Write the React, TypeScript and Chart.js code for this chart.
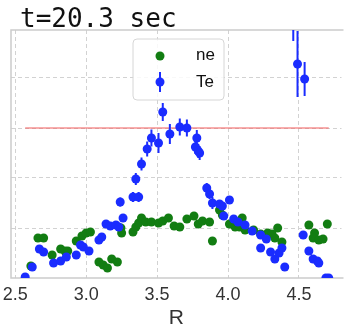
import React, { useEffect, useRef } from "react";
import { Chart, registerables } from "chart.js";

Chart.register(...registerables);

// ---- data ----
const titleText = "t=20.3 sec";
const xTickValues = [2.5, 3.0, 3.5, 4.0, 4.5];
const xLabel = "R";

const teR = [2.57, 2.62, 2.67, 2.70, 2.77, 2.82, 2.86, 2.93, 2.96, 2.98, 3.02, 3.09, 3.11, 3.14, 3.17, 3.21, 3.23, 3.26, 3.24, 3.33, 3.37, 3.35, 3.39, 3.43, 3.46, 3.51, 3.54, 3.59, 3.66, 3.71, 3.78, 3.77, 3.79, 3.80, 3.85, 3.87, 3.89, 3.94, 3.96, 4.01, 3.97, 4.04, 4.07, 4.12, 4.17, 4.23, 4.27, 4.23, 4.30, 4.33, 4.36, 4.38, 4.40, 4.49, 4.54, 4.46, 4.53, 4.57, 4.60, 4.63, 4.64, 4.69, 4.71];
const teV = [0.02, 0.22, 0.58, 0.52, 0.30, 0.34, 0.42, 0.46, 0.66, 0.62, 0.54, 0.76, 0.82, 1.08, 1.04, 1.06, 1.02, 1.20, 1.52, 1.62, 1.62, 1.98, 2.28, 2.58, 2.80, 2.70, 3.32, 2.88, 3.02, 3.00, 2.80, 2.62, 2.54, 2.50, 1.80, 1.68, 1.50, 1.48, 1.44, 1.56, 1.24, 1.18, 1.12, 1.06, 0.94, 0.86, 0.78, 0.60, 0.52, 0.38, 0.50, 0.60, 0.22, 4.28, 3.98, 5.30, 0.86, 0.54, 0.38, 0.34, 0.30, 0.0, 0.0];
const teErr = [0.04, 0.04, 0.05, 0.05, 0.04, 0.04, 0.05, 0.05, 0.05, 0.05, 0.05, 0.06, 0.06, 0.07, 0.07, 0.07, 0.07, 0.08, 0.09, 0.1, 0.1, 0.12, 0.13, 0.15, 0.17, 0.2, 0.18, 0.2, 0.17, 0.17, 0.16, 0.14, 0.14, 0.14, 0.1, 0.1, 0.12, 0.08, 0.08, 0.08, 0.07, 0.07, 0.07, 0.06, 0.06, 0.06, 0.06, 0.05, 0.05, 0.05, 0.05, 0.05, 0.04, 0.66, 0.34, 0.56, 0.06, 0.05, 0.05, 0.05, 0.05, 0.04, 0.04];

const neR = [2.61, 2.66, 2.70, 2.76, 2.82, 2.85, 2.87, 2.93, 2.97, 3.00, 3.03, 3.09, 3.12, 3.15, 3.18, 3.22, 3.25, 3.245, 3.33, 3.35, 3.37, 3.39, 3.42, 3.46, 3.51, 3.54, 3.58, 3.62, 3.66, 3.71, 3.76, 3.79, 3.82, 3.87, 3.89, 3.94, 3.96, 4.01, 4.05, 4.08, 4.10, 4.12, 4.18, 4.23, 4.28, 4.31, 4.35, 4.33, 4.38, 4.57, 4.61, 4.60, 4.64, 4.67, 4.70];
const neV = [0.24, 0.80, 0.80, 0.46, 0.58, 0.54, 0.54, 0.74, 0.84, 0.90, 0.92, 0.32, 0.26, 0.20, 0.38, 0.32, 0.90, 1.00, 0.92, 1.02, 1.10, 1.20, 1.12, 1.12, 1.10, 1.14, 1.20, 1.04, 1.02, 1.18, 1.24, 1.08, 1.14, 1.12, 0.74, 1.36, 1.26, 1.08, 1.02, 1.02, 1.20, 0.96, 0.96, 0.88, 0.90, 0.88, 1.00, 0.80, 0.72, 1.06, 0.90, 0.80, 0.76, 0.78, 1.08];

const refLevel = [3.0];
const refRange = [2.57, 4.71];

const X_MIN = 2.47;
const X_MAX = 4.80;
const Y_MIN = 0;
const Y_MAX = 4.96;

const BLUE = "#1a2cff";
const GREEN = "#127d12";
const GRID = "#d2d2d2";
const FRAME = "#cccccc";

const errorBarPlugin = {
  id: "errbars",
  beforeDatasetDraw(chart: any, args: any) {
    if (args.index !== 0) return;
    const { ctx, chartArea: ca, scales } = chart;
    const xs = scales.x;
    const ys = scales.y;
    ctx.save();
    ctx.beginPath();
    ctx.rect(ca.left, ca.top, ca.right - ca.left, ca.bottom - ca.top);
    ctx.clip();
    ctx.strokeStyle = BLUE;
    ctx.lineWidth = 2;
    for (let i = 0; i < teR.length; i++) {
      const px = xs.getPixelForValue(teR[i]);
      const y1 = ys.getPixelForValue(teV[i] - teErr[i]);
      const y2 = ys.getPixelForValue(teV[i] + teErr[i]);
      ctx.beginPath();
      ctx.moveTo(px, y1);
      ctx.lineTo(px, y2);
      ctx.stroke();
    }
    ctx.restore();
  },
};

const decorPlugin = {
  id: "decor",
  beforeDatasetsDraw(chart: any) {
    const { ctx, chartArea: ca } = chart;
    ctx.save();
    ctx.strokeStyle = FRAME;
    ctx.lineWidth = 1.5;
    ctx.beginPath();
    ctx.moveTo(ca.right + 2, ca.top);
    ctx.lineTo(ca.left, ca.top);
    ctx.lineTo(ca.left, ca.bottom);
    ctx.lineTo(ca.right + 2, ca.bottom);
    ctx.stroke();
    ctx.restore();
  },
  afterDraw(chart: any) {
    const { ctx, chartArea: ca } = chart;
    ctx.save();
    // title
    ctx.fillStyle = "#111";
    ctx.font = '26px "DejaVu Sans Mono"';
    ctx.textAlign = "left";
    ctx.textBaseline = "alphabetic";
    ctx.fillText(titleText, 20, 27);

    // legend
    const lx = ca.left + 122;
    const ly = ca.top + 9;
    const lw = 91;
    const lh = 61;
    const r = 4;
    ctx.beginPath();
    ctx.moveTo(lx + r, ly);
    ctx.lineTo(lx + lw - r, ly);
    ctx.quadraticCurveTo(lx + lw, ly, lx + lw, ly + r);
    ctx.lineTo(lx + lw, ly + lh - r);
    ctx.quadraticCurveTo(lx + lw, ly + lh, lx + lw - r, ly + lh);
    ctx.lineTo(lx + r, ly + lh);
    ctx.quadraticCurveTo(lx, ly + lh, lx, ly + lh - r);
    ctx.lineTo(lx, ly + r);
    ctx.quadraticCurveTo(lx, ly, lx + r, ly);
    ctx.closePath();
    ctx.fillStyle = "rgba(255,255,255,0.85)";
    ctx.fill();
    ctx.strokeStyle = "#d6d6d6";
    ctx.lineWidth = 1;
    ctx.stroke();

    const mx = lx + 27;
    ctx.fillStyle = GREEN;
    ctx.beginPath();
    ctx.arc(mx, ly + 17, 4.5, 0, Math.PI * 2);
    ctx.fill();
    ctx.strokeStyle = BLUE;
    ctx.lineWidth = 2;
    ctx.beginPath();
    ctx.moveTo(mx, ly + 33);
    ctx.lineTo(mx, ly + 53);
    ctx.stroke();
    ctx.fillStyle = BLUE;
    ctx.beginPath();
    ctx.arc(mx, ly + 43, 4.5, 0, Math.PI * 2);
    ctx.fill();

    ctx.fillStyle = "#111";
    ctx.font = '17px "Liberation Sans", Arial, sans-serif';
    ctx.textAlign = "left";
    ctx.textBaseline = "middle";
    ctx.fillText("ne", lx + 63, ly + 16);
    ctx.fillText("Te", lx + 63, ly + 43);
    ctx.restore();
  },
};

export default function App() {
  const ref = useRef<HTMLCanvasElement | null>(null);
  useEffect(() => {
    if (!ref.current) return;
    const chart = new Chart(ref.current, {
      type: "scatter",
      data: {
        datasets: [
          {
            label: "Te",
            data: teR.map((x, i) => ({ x, y: teV[i] })),
            backgroundColor: BLUE,
            borderWidth: 0,
            pointRadius: 4.5,
            order: 0,
          },
          {
            label: "ne",
            data: neR.map((x, i) => ({ x, y: neV[i] })),
            backgroundColor: GREEN,
            borderWidth: 0,
            pointRadius: 4.5,
            order: 1,
          },
          {
            type: "line",
            label: "ref",
            data: refRange.map((x) => ({ x, y: refLevel[0] })),
            borderColor: "#f25a5a",
            borderWidth: 1,
            pointRadius: 0,
            order: 2,
          } as any,
        ],
      },
      options: {
        animation: false,
        responsive: false,
        devicePixelRatio: 1,
        layout: { padding: { left: 11, top: 30, right: 0, bottom: 0 } },
        plugins: { legend: { display: false }, tooltip: { enabled: false }, title: { display: false } },
        scales: {
          x: {
            type: "linear",
            min: X_MIN,
            max: X_MAX,
            afterBuildTicks: (scale: any) => {
              scale.ticks = xTickValues.map((v) => ({ value: v }));
            },
            afterFit: (scale: any) => {
              scale.height = 53;
              scale.paddingLeft = 0;
              scale.paddingRight = 0;
            },
            ticks: {
              color: "#333",
              font: { size: 18, family: '"Liberation Sans", Arial, sans-serif' },
              padding: 6,
              maxRotation: 0,
              callback: (v: any) => Number(v).toFixed(1),
            },
            grid: { color: GRID, lineWidth: 1, drawTicks: false },
            border: { display: false, dash: [4, 3] },
            title: {
              display: true,
              text: xLabel,
              color: "#333",
              font: { size: 21, family: '"Liberation Sans", Arial, sans-serif' },
              padding: { top: 0, bottom: 0 },
            },
          },
          y: {
            type: "linear",
            min: Y_MIN,
            max: Y_MAX,
            afterBuildTicks: (scale: any) => {
              scale.ticks = [1, 2, 3, 4].map((v) => ({ value: v }));
            },
            afterFit: (scale: any) => {
              scale.width = 0;
              scale.paddingTop = 0;
              scale.paddingBottom = 0;
            },
            ticks: { display: false },
            grid: { color: GRID, lineWidth: 1, drawTicks: false },
            border: { display: false, dash: [4, 3] },
          },
        },
      },
      plugins: [errorBarPlugin, decorPlugin],
    } as any);
    return () => chart.destroy();
  }, []);
  return (
    <div style={{ position: "absolute", left: 0, top: 0, width: 346, height: 331, background: "#fff" }}>
      <canvas ref={ref} width={346} height={331} style={{ display: "block" }} />
    </div>
  );
}
